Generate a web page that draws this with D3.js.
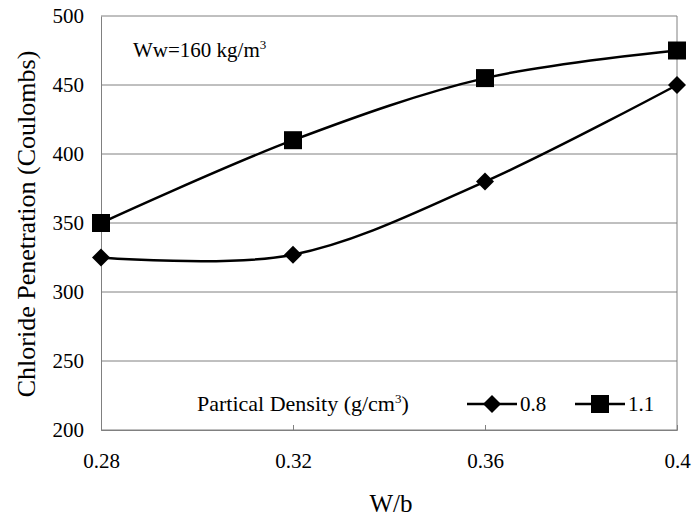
<!DOCTYPE html>
<html>
<head>
<meta charset="utf-8">
<script src="https://cdn.jsdelivr.net/npm/d3@7"></script>
<style>
  body { margin: 0; background: #fff; }
</style>
</head>
<body>
<div id="chart"></div>
<script>
// chart data
const wb = [0.28, 0.32, 0.36, 0.4];
const xTicks = [0.28, 0.32, 0.36, 0.4];
const yTicks = [200, 250, 300, 350, 400, 450, 500];
const density08 = [325, 327, 380, 450];
const density11 = [350, 410, 455, 475];
const seriesNames = ["0.8", "1.1"];

const width = 694, height = 519;
const margin = { top: 16, right: 17, bottom: 89, left: 101 };
const innerW = width - margin.left - margin.right;
const innerH = height - margin.top - margin.bottom;
const serif = '"Liberation Serif", "Times New Roman", serif';

const svg = d3.select("#chart").append("svg")
  .attr("width", width)
  .attr("height", height);

const g = svg.append("g")
  .attr("transform", `translate(${margin.left},${margin.top})`);

// scales
const x = d3.scaleLinear().domain([0.28, 0.4]).range([0, innerW]);
const y = d3.scaleLinear().domain([200, 500]).range([innerH, 0]);

// gridlines
g.append("g")
  .selectAll("line")
  .data(yTicks)
  .join("line")
  .attr("x1", 0)
  .attr("x2", innerW)
  .attr("y1", d => y(d))
  .attr("y2", d => y(d))
  .attr("stroke", "#808080")
  .attr("stroke-width", 1);

// right border
g.append("line")
  .attr("x1", innerW).attr("x2", innerW)
  .attr("y1", 0).attr("y2", innerH)
  .attr("stroke", "#808080");

// axes
const xAxis = g.append("g")
  .attr("transform", `translate(0,${innerH})`)
  .call(d3.axisBottom(x).tickValues(xTicks).tickSize(-5)
    .tickFormat(d => d === 0.4 ? "0.4" : d3.format(".2f")(d)));
xAxis.selectAll("line").attr("stroke", "#808080");
xAxis.select(".domain").attr("stroke", "#808080");
xAxis.selectAll("text")
  .attr("y", 38).attr("dy", null)
  .attr("fill", "#000")
  .style("font-family", serif).style("font-size", "21px");
xAxis.selectAll(".tick").filter(d => d === 0.28 || d === 0.4).select("line").remove();

const yAxis = g.append("g")
  .call(d3.axisLeft(y).tickValues(yTicks).tickSize(0).tickPadding(17));
yAxis.select(".domain").attr("stroke", "#808080");
yAxis.selectAll("text")
  .attr("fill", "#000")
  .style("font-family", serif).style("font-size", "21px");

// axis titles
svg.append("text")
  .attr("x", 391)
  .attr("y", 512)
  .attr("text-anchor", "middle")
  .style("font-family", serif).style("font-size", "25px")
  .text("W/b");

svg.append("text")
  .attr("transform", "rotate(-90)")
  .attr("x", -224)
  .attr("y", 35)
  .attr("text-anchor", "middle")
  .style("font-family", serif).style("font-size", "26px")
  .text("Chloride Penetration (Coulombs)");

// lines
const line = d3.line()
  .x((d, i) => x(wb[i]))
  .y(d => y(d))
  .curve(d3.curveCatmullRom.alpha(0));

const series = [density08, density11];
const symSizes = [162, 324];
const rotations = [45, 0];

series.forEach(vals => {
  g.append("path")
    .datum(vals)
    .attr("d", line)
    .attr("fill", "none")
    .attr("stroke", "#000")
    .attr("stroke-width", 2.5);
});

series.forEach((vals, si) => {
  g.selectAll(".pt" + si)
    .data(vals)
    .join("path")
    .attr("class", "pt" + si)
    .attr("transform", (d, i) => `translate(${x(wb[i])},${y(d)}) rotate(${rotations[si]})`)
    .attr("d", d3.symbol().type(d3.symbolSquare).size(symSizes[si]))
    .attr("fill", "#000");
});

// annotation
const ann = svg.append("text")
  .attr("x", 133)
  .attr("y", 57)
  .style("font-family", serif).style("font-size", "21px");
ann.append("tspan").text("Ww=160 kg/m");
ann.append("tspan").attr("dy", -8).style("font-size", "13px").text("3");

// legend
const leg = svg.append("text")
  .attr("x", 197)
  .attr("y", 411)
  .style("font-family", serif).style("font-size", "22px");
leg.append("tspan").text("Partical Density (g/cm");
leg.append("tspan").attr("dy", -8).style("font-size", "13px").text("3");
leg.append("tspan").attr("dy", 8).text(")");

const legItems = [
  { x0: 467, x1: 517, tx: 520 },
  { x0: 575, x1: 625, tx: 628 }
];
legItems.forEach((it, si) => {
  svg.append("line")
    .attr("x1", it.x0).attr("x2", it.x1)
    .attr("y1", 404).attr("y2", 404)
    .attr("stroke", "#000").attr("stroke-width", 2.5);
  svg.append("path")
    .attr("transform", `translate(${(it.x0 + it.x1) / 2},404) rotate(${rotations[si]})`)
    .attr("d", d3.symbol().type(d3.symbolSquare).size(symSizes[si]))
    .attr("fill", "#000");
  svg.append("text")
    .attr("x", it.tx)
    .attr("y", 411)
    .style("font-family", serif).style("font-size", "21px")
    .text(seriesNames[si]);
});
</script>
</body>
</html>
